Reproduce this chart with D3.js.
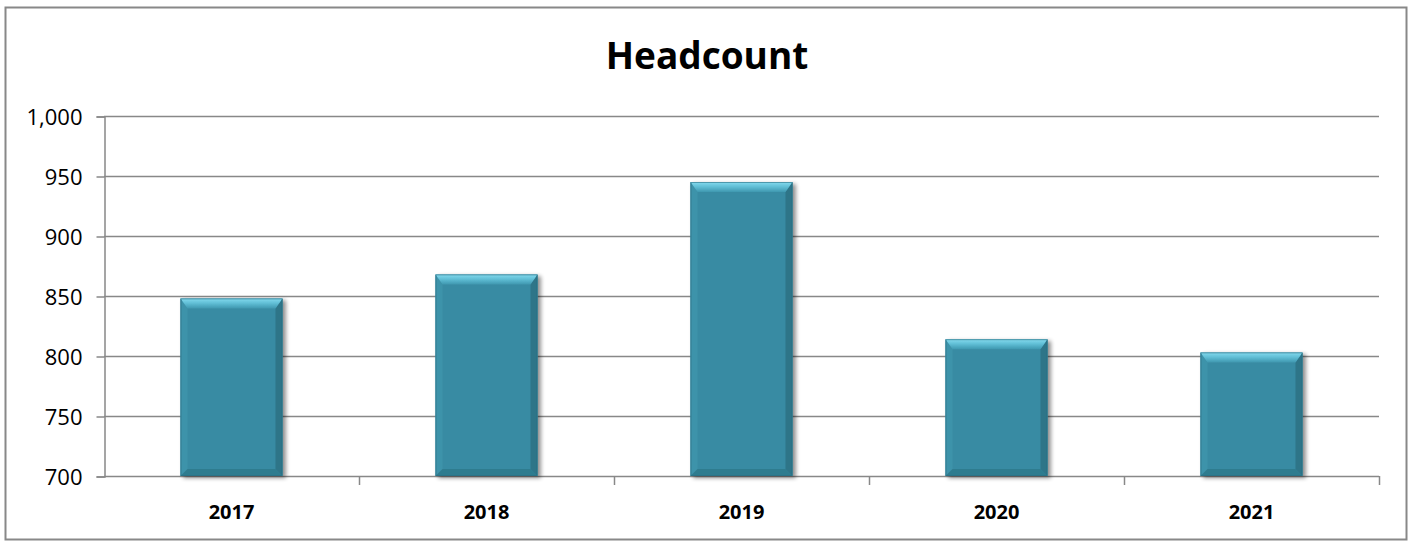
<!doctype html>
<html>
<head>
    <meta http-equiv="Content-type" content="text/html; charset=utf-8"/>
    <script src="https://d3js.org/d3.v7.min.js"></script>
    <style>
        body { margin: 0; background: #fff; }
        svg { display: block; }
        .ylab { font-family: "Open Sans", sans-serif; font-size: 22px; fill: #000; }
        .xlab { font-family: "Open Sans", sans-serif; font-size: 20px; font-weight: bold; fill: #000; }
        .title { font-family: "Open Sans", sans-serif; font-size: 37px; font-weight: bold; fill: #000; }
    </style>
</head>
<body>
<svg width="1411" height="542"></svg>
<script>
    // data
    var years = ["2017", "2018", "2019", "2020", "2021"];
    var headcount = [848, 868, 945, 814, 803];
    var yTicks = [700, 750, 800, 850, 900, 950, 1000];

    var svg = d3.select("svg");
    var plotLeft = 104, plotRight = 1379, plotTop = 116, plotBottom = 476;
    var lineColor = "#888";

    // outer frame
    svg.append("rect")
        .attr("x", 5.5).attr("y", 7.5)
        .attr("width", 1401).attr("height", 532)
        .attr("fill", "#fff")
        .attr("stroke", lineColor).attr("stroke-width", 2);

    svg.append("text").attr("class", "title")
        .attr("x", 707).attr("y", 69)
        .attr("text-anchor", "middle")
        .text("Headcount");

    var x = d3.scaleBand().domain(years).range([plotLeft, plotRight]).paddingInner(0.6).paddingOuter(0.3);
    var band = d3.scaleBand().domain(years).range([plotLeft, plotRight]);
    var y = d3.scaleLinear().domain([700, 1000]).range([plotBottom, plotTop]);

    // gridlines
    svg.append("g").selectAll("line")
        .data(yTicks.slice(1))
        .enter().append("line")
        .attr("x1", plotLeft).attr("x2", plotRight)
        .attr("y1", function(d) { return Math.round(y(d)) + 0.5; })
        .attr("y2", function(d) { return Math.round(y(d)) + 0.5; })
        .attr("stroke", lineColor).attr("stroke-width", 1.5);

    // y axis
    var yAxis = svg.append("g")
        .attr("transform", "translate(" + (plotLeft + 0.5) + ",0.5)")
        .call(d3.axisLeft(y).tickValues(yTicks).tickSize(8).tickPadding(14).tickFormat(d3.format(",")));
    yAxis.select(".domain").attr("stroke", lineColor).attr("stroke-width", 1.5);
    yAxis.selectAll(".tick line").attr("stroke", lineColor).attr("stroke-width", 1.5);
    yAxis.attr("font-size", null).attr("font-family", null);
    yAxis.selectAll(".tick text").attr("class", "ylab").attr("dy", "0.36em");

    // x axis with ticks between categories
    var xAxisG = svg.append("g");
    xAxisG.append("line")
        .attr("x1", plotLeft).attr("x2", plotRight)
        .attr("y1", plotBottom + 0.5).attr("y2", plotBottom + 0.5)
        .attr("stroke", lineColor).attr("stroke-width", 1.5);
    var bounds = years.map(function(d) { return band(d); }).concat([plotRight]);
    xAxisG.selectAll("line.tk")
        .data(bounds.slice(1))
        .enter().append("line").attr("class", "tk")
        .attr("x1", function(d) { return Math.round(d) + 0.5; })
        .attr("x2", function(d) { return Math.round(d) + 0.5; })
        .attr("y1", plotBottom).attr("y2", plotBottom + 9)
        .attr("stroke", lineColor).attr("stroke-width", 1.5);
    xAxisG.selectAll("text")
        .data(years)
        .enter().append("text").attr("class", "xlab")
        .attr("x", function(d) { return band(d) + band.bandwidth() / 2; })
        .attr("y", 519)
        .attr("text-anchor", "middle")
        .text(function(d) { return d; });

    // bar look
    var defs = svg.append("defs");
    var sh = defs.append("filter").attr("id", "shadow")
        .attr("x", "-10%").attr("y", "-10%").attr("width", "130%").attr("height", "130%");
    sh.append("feGaussianBlur").attr("in", "SourceAlpha").attr("stdDeviation", 2.2).attr("result", "b");
    sh.append("feOffset").attr("in", "b").attr("dx", 3).attr("dy", 2).attr("result", "o");
    sh.append("feComponentTransfer").attr("in", "o").attr("result", "o2")
        .append("feFuncA").attr("type", "linear").attr("slope", 0.45);
    var mg = sh.append("feMerge");
    mg.append("feMergeNode").attr("in", "o2");
    mg.append("feMergeNode").attr("in", "SourceGraphic");

    var gTop = defs.append("linearGradient").attr("id", "gTop").attr("x1", 0).attr("x2", 0).attr("y1", 0).attr("y2", 1);
    gTop.append("stop").attr("offset", "0%").attr("stop-color", "#86dbef");
    gTop.append("stop").attr("offset", "45%").attr("stop-color", "#62c0d7");
    gTop.append("stop").attr("offset", "100%").attr("stop-color", "#3f98b0");

    var bev = 10;
    var bars = svg.append("g").selectAll("g")
        .data(years.map(function(d, i) { return { year: d, value: headcount[i] }; }))
        .enter().append("g").attr("filter", "url(#shadow)");

    bars.each(function(d) {
        var g = d3.select(this);
        var x0 = x(d.year), x1 = x(d.year) + x.bandwidth();
        var y0 = y(d.value), y1 = y(700);
        g.append("rect")
            .attr("x", x0).attr("y", y0)
            .attr("width", x1 - x0).attr("height", y1 - y0)
            .attr("fill", "#398ba3");
        // left bevel
        g.append("polygon")
            .attr("points", [[x0, y0], [x0 + bev * 0.7, y0 + bev], [x0 + bev * 0.7, y1 - bev * 0.7], [x0, y1]].join(" "))
            .attr("fill", "#3e93aa");
        // right bevel
        g.append("polygon")
            .attr("points", [[x1, y0], [x1 - bev * 0.7, y0 + bev], [x1 - bev * 0.7, y1 - bev * 0.7], [x1, y1]].join(" "))
            .attr("fill", "#2e7488");
        // bottom bevel
        g.append("polygon")
            .attr("points", [[x0, y1], [x0 + bev * 0.7, y1 - bev * 0.7], [x1 - bev * 0.7, y1 - bev * 0.7], [x1, y1]].join(" "))
            .attr("fill", "#2f7b8f");
        // top bevel
        g.append("polygon")
            .attr("points", [[x0, y0], [x1, y0], [x1 - bev * 0.7, y0 + bev], [x0 + bev * 0.7, y0 + bev]].join(" "))
            .attr("fill", "url(#gTop)");
        g.append("rect")
            .attr("x", x0 + 0.5).attr("y", y0 + 0.5)
            .attr("width", x1 - x0 - 1).attr("height", y1 - y0 - 1)
            .attr("fill", "none").attr("stroke", "#2a6e82").attr("stroke-width", 1).attr("stroke-opacity", 0.6);
    });
</script>
</body>
</html>
